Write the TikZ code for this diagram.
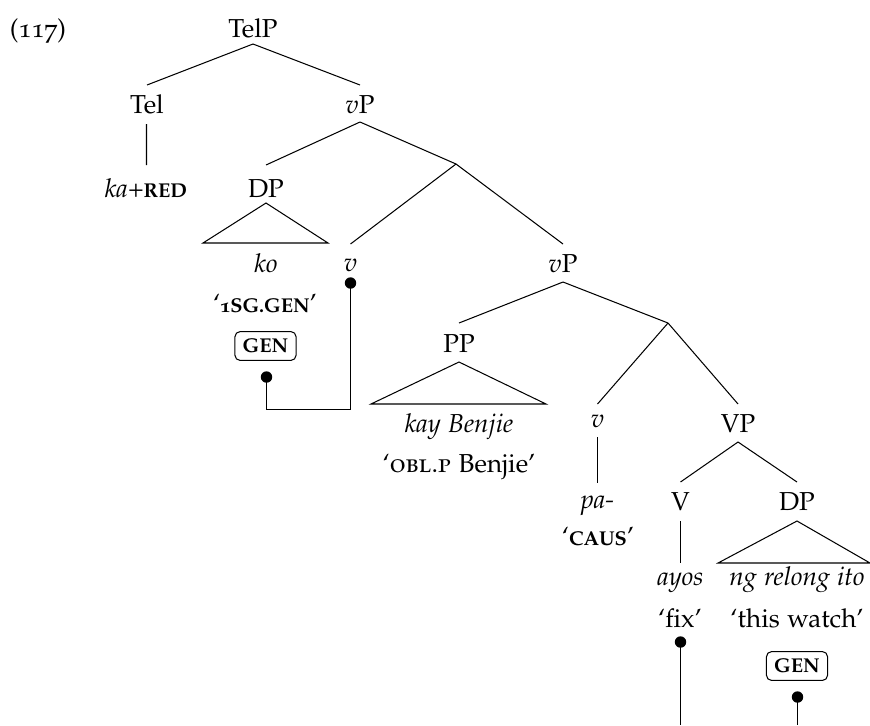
\documentclass[tikz,border=0pt]{standalone}
\usepackage[T1]{fontenc}
\usepackage[sc,osf]{mathpazo}
\usetikzlibrary{calc}
\newcommand{\boldsc}[1]{{\fontsize{7.7}{9}\selectfont\bfseries #1}}
\begin{document}
\begin{tikzpicture}[x=0.385pt,y=-0.385pt,line width=0.4pt,
  lab/.style={anchor=base,inner sep=0pt},
  featbox/.style={draw,rounded corners=2pt,inner xsep=3pt,inner ysep=2.8pt},
  dotc/.style={circle,fill,inner sep=0pt,minimum size=4.4pt}]
\useasboundingbox (0,0) rectangle (870,725);
% labels
\node[lab] (ex) at (38,37) {(117)};
\node[lab] (telp) at (253,37) {TelP};
\node[lab] (tel) at (147,113) {Tel};
\node[lab] (vp1) at (360,113) {$v$P};
\node[lab] (kared) at (146,197) {\textit{ka}+\boldsc{RED}};
\node[lab] (dp1) at (266,197) {DP};
\coordinate (vbar1) at (456,164);
\node[lab] (ko) at (266,272) {\textit{ko}};
\node[lab] (v1) at (350.5,271) {$v$};
\node[lab] (vp2) at (563,272) {$v$P};
\node[lab] (gl1) at (265,312) {`\boldsc{1SG.GEN}'};
\node[featbox] (gen1) at (265.5,346) {\boldsc{GEN}};
\node[dotc] (d1) at (266.5,377) {};
\node[dotc] (d0) at (350.5,283) {};
\coordinate (corner) at (350.5,409.5);
\node[lab] (pp) at (459,352) {PP};
\coordinate (vbar2) at (668,323);
\node[lab] (kay) at (459,432) {\textit{kay Benjie}};
\node[lab] (oblp) at (459,472) {`\textsc{obl.p} Benjie'};
\node[lab] (v2) at (597.5,427) {$v$};
\node[lab] (vp3) at (738,432) {VP};
\node[lab] (pa) at (597.5,508) {\textit{pa-}};
\node[lab] (caus) at (598,545) {`\boldsc{CAUS}'};
\node[lab] (vv) at (680.5,510) {V};
\node[lab] (dp2) at (797,510) {DP};
\node[lab] (ayos) at (680.5,585) {\textit{ayos}};
\node[lab] (ngr) at (797,585) {\textit{ng relong ito}};
\node[lab] (fix) at (680,627) {`fix'};
\node[lab] (watch) at (797,627) {`this watch'};
\node[dotc] (d2) at (680.5,642) {};
\node[featbox] (gen2) at (797,666) {\boldsc{GEN}};
\node[dotc] (d3) at (797.5,697) {};
\coordinate (bot2) at (680.5,725);
\coordinate (bot3) at (797.5,725);
% branches
\draw ($(telp.base)+(0,7)$) -- ($(tel.base)+(0,-28)$);
\draw ($(telp.base)+(0,7)$) -- ($(vp1.base)+(0,-28)$);
\draw ($(tel.base)+(-0.5,11)$) -- ($(kared.base)+(0.5,-32)$);
\draw ($(vp1.base)+(0,9)$) -- ($(dp1.base)+(0,-32)$);
\draw ($(vp1.base)+(0,9)$) -- (vbar1);
\draw ($(dp1.base)+(0,6)$) -- ($(ko.base)+(-63,-29)$) -- ($(ko.base)+(62,-29)$) -- cycle;
\draw (vbar1) -- ($(v1.base)+(0,-27)$);
\draw (vbar1) -- ($(vp2.base)+(0,-28)$);
\draw ($(vp2.base)+(0,10)$) -- ($(pp.base)+(0,-29)$);
\draw ($(vp2.base)+(0,10)$) -- (vbar2);
\draw ($(pp.base)+(0,10)$) -- ($(kay.base)+(-88,-28)$) -- ($(kay.base)+(87,-28)$) -- cycle;
\draw (vbar2) -- ($(v2.base)+(0,-23)$);
\draw (vbar2) -- ($(vp3.base)+(0,-28)$);
\draw ($(v2.base)+(0,10)$) -- ($(pa.base)+(0,-25)$);
\draw ($(vp3.base)+(0,10)$) -- ($(vv.base)+(0,-28)$);
\draw ($(vp3.base)+(0,10)$) -- ($(dp2.base)+(0,-28)$);
\draw ($(vv.base)+(0,11)$) -- ($(ayos.base)+(0,-22)$);
\draw ($(dp2.base)+(0,11)$) -- ($(ngr.base)+(-79,-22)$) -- ($(ngr.base)+(73,-22)$) -- cycle;
% agreement links
\draw (d1.center) |- (corner) -- (d0.center);
\draw (d2.center) -- (bot2);
\draw (d3.center) -- (bot3);
\end{tikzpicture}
\end{document}
